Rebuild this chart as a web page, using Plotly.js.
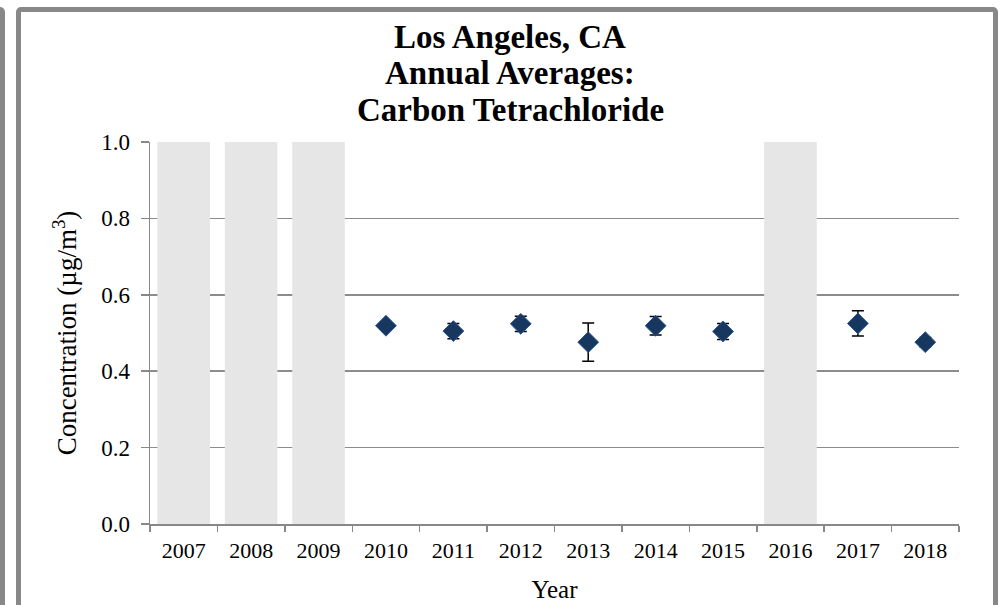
<!DOCTYPE html>
<html>
<head>
<meta charset="utf-8">
<script src="https://cdn.plot.ly/plotly-3.0.1.min.js"></script>
<style>
html,body{margin:0;padding:0;background:#fff;}
#wrap{position:relative;width:1005px;height:605px;overflow:hidden;}
#chart{position:absolute;left:0;top:0;width:1005px;height:605px;}
.frame{position:absolute;border:5px solid #888;border-radius:5px;pointer-events:none;z-index:10;}
</style>
</head>
<body>
<div id="wrap">
<div id="chart"></div>
<div class="frame" style="left:-400px;top:7px;width:395px;height:700px;"></div>
<div class="frame" style="left:16px;top:7px;width:972px;height:700px;"></div>
</div>
<script>
var years = ["2007","2008","2009","2010","2011","2012","2013","2014","2015","2016","2017","2018"];
var avgYears = ["2010","2011","2012","2013","2014","2015","2017","2018"];
var avgValues = [0.519, 0.505, 0.524, 0.476, 0.519, 0.504, 0.525, 0.476];
var avgErrors = [0.008, 0.020, 0.020, 0.050, 0.024, 0.021, 0.033, 0.012];
var missingYears = ["2007","2008","2009","2016"];
var missingHeight = [1, 1, 1, 1];
var titleLines = ["Los Angeles, CA", "Annual Averages:", "Carbon Tetrachloride"];

var serif = "Liberation Serif, Times New Roman, serif";

var traces = [
  {
    type: "bar",
    x: missingYears,
    y: missingHeight,
    width: 0.78,
    marker: {color: "#e6e6e6", line: {width: 0}},
    hoverinfo: "skip",
    showlegend: false
  },
  {
    type: "scatter",
    mode: "markers",
    x: avgYears,
    y: avgValues,
    marker: {symbol: "diamond", size: 16, color: "#17375e", line: {color: "#2a5596", width: 1}},
    error_y: {type: "data", array: avgErrors, visible: true, color: "#000", thickness: 1.5, width: 6},
    showlegend: false
  }
];

var plotTop = 142, plotH = 382;
var titleCenters = [37, 73, 110];
var annotations = titleLines.map(function (t, i) {
  return {
    text: "<b>" + t + "</b>",
    xref: "paper", yref: "paper",
    x: (510 - 150) / 809, xanchor: "center",
    y: 1 + (plotTop - titleCenters[i]) / plotH, yanchor: "middle",
    showarrow: false,
    font: {family: serif, size: 33, color: "#000"}
  };
});

var layout = {
  width: 1005,
  height: 605,
  margin: {l: 150, r: 46, t: 142, b: 81},
  paper_bgcolor: "#fff",
  plot_bgcolor: "#fff",
  font: {family: serif, color: "#000", size: 22},
  annotations: annotations,
  xaxis: {
    type: "category",
    categoryorder: "array",
    categoryarray: years,
    range: [-0.5, 11.5],
    tickson: "boundaries",
    ticks: "outside",
    ticklen: 6,
    tickcolor: "#888",
    tickwidth: 1.5,
    ticklabelstandoff: 6,
    showline: true,
    linecolor: "#888",
    linewidth: 1.5,
    showgrid: false,
    tickfont: {family: serif, size: 22},
    title: {text: "Year", font: {family: serif, size: 25}, standoff: 18}
  },
  yaxis: {
    range: [0, 1.0],
    tickvals: [0, 0.2, 0.4, 0.6, 0.8, 1.0],
    ticktext: ["0.0","0.2","0.4","0.6","0.8","1.0"],
    ticks: "outside",
    ticklen: 8,
    tickcolor: "#888",
    tickwidth: 1.5,
    ticklabelstandoff: 6,
    showline: true,
    linecolor: "#888",
    linewidth: 1.5,
    showgrid: true,
    gridcolor: "#8c8c8c",
    gridwidth: 1.5,
    zeroline: false,
    tickfont: {family: serif, size: 23},
    title: {text: "Concentration (µg/m<sup>3</sup>)", font: {family: serif, size: 27}, standoff: 16}
  },
  bargap: 0.22
};

Plotly.newPlot("chart", traces, layout, {displayModeBar: false, staticPlot: true});
</script>
</body>
</html>
